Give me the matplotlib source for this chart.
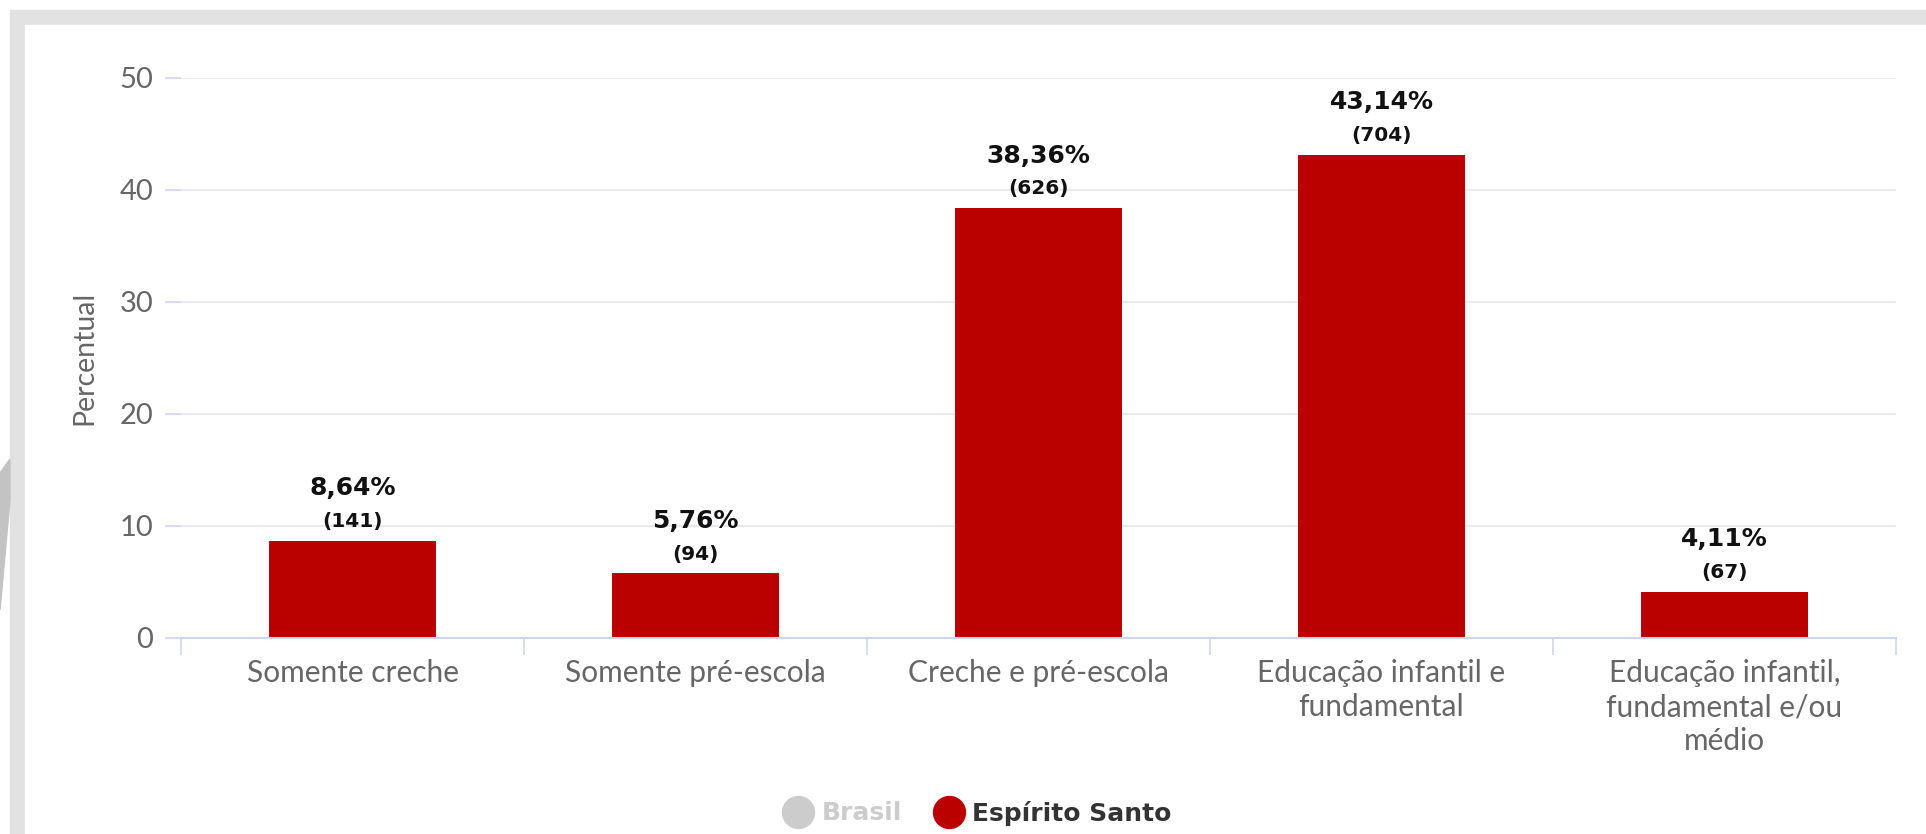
import matplotlib.pyplot as plt
from matplotlib.patches import Rectangle, Polygon
from matplotlib.lines import Line2D

plt.rcParams['font.family'] = ['Lato', 'DejaVu Sans']

categories = ['Somente creche', 'Somente pré-escola', 'Creche e pré-escola',
              'Educação infantil e\nfundamental',
              'Educação infantil,\nfundamental e/ou\nmédio']
percents = [8.64, 5.76, 38.36, 43.14, 4.11]
counts = [141, 94, 626, 704, 67]
yticks = [0, 10, 20, 30, 40, 50]

W, H = 1926, 834
fig = plt.figure(figsize=(W / 100, H / 100), dpi=100)

# gray frame around the white card
fig.patches.append(Rectangle((10 / W, 0), 1 - 10 / W, 1 - 10 / H,
                             transform=fig.transFigure, color='#e2e2e2', zorder=-3))
fig.patches.append(Rectangle((25 / W, 0), 1 - 25 / W, 1 - 25 / H,
                             transform=fig.transFigure, color='white', zorder=-2))
shape = [(0, 473), (10, 459), (10, 500), (0, 610)]
fig.patches.append(Polygon([(x / W, 1 - y / H) for x, y in shape], closed=True,
                           transform=fig.transFigure, color='#c3c3c3', zorder=-1))

ax = fig.add_axes([181 / W, 1 - 638 / H, 1715 / W, 560 / H])
ax.set_facecolor('none')

x = list(range(len(categories)))
bars = ax.bar(x, percents, width=0.484, color='#bb0000', zorder=2)

bold = ['DejaVu Sans']
for xi, p, c in zip(x, percents, counts):
    ax.annotate(f'({c})', (xi, p), xytext=(0, 10), textcoords='offset points',
                ha='center', va='baseline', fontsize=14.5, fontweight='bold',
                family=bold, color='#111111')
    ax.annotate(f'{p:.2f}%'.replace('.', ','), (xi, p), xytext=(0, 33),
                textcoords='offset points', ha='center', va='baseline',
                fontsize=18, fontweight='bold', family=bold, color='#111111')

ax.set_xlim(-0.5, len(categories) - 0.5)
ax.set_ylim(0, 50)
ax.set_yticks(yticks)
ax.set_yticklabels([str(t) for t in yticks])
ax.yaxis.grid(True, color='#e6e9ef', linewidth=1.5, zorder=0)
ax.set_axisbelow(True)

for s in ['top', 'right', 'left']:
    ax.spines[s].set_visible(False)
ax.spines['bottom'].set_color('#ccd6eb')
ax.spines['bottom'].set_linewidth(1.5)

ax.set_xticks(x)
ax.set_xticklabels(categories, fontsize=21.5, color='#666666', linespacing=1.27)
ax.set_xticks([i - 0.5 for i in range(len(categories) + 1)], minor=True)
ax.tick_params(axis='x', which='major', length=0, pad=15)
ax.tick_params(axis='x', which='minor', length=12, width=1.2, color='#ccd6eb')
ax.tick_params(axis='y', length=11.5, width=1.2, color='#ccd6eb', pad=8.5,
               labelsize=21, labelcolor='#666666')

ax.set_ylabel('Percentual', fontsize=20.5, color='#666666')
ax.yaxis.set_label_coords(-0.049, 0.5)

handles = [Line2D([], [], marker='o', linestyle='', markersize=23,
                  markerfacecolor='#cccccc', markeredgecolor='#cccccc'),
           Line2D([], [], marker='o', linestyle='', markersize=23,
                  markerfacecolor='#bb0000', markeredgecolor='#bb0000')]
leg = fig.legend(handles, ['Brasil', 'Espírito Santo'], loc='center',
                 bbox_to_anchor=(977 / W, 1 - 813 / H), ncol=2, frameon=False,
                 prop={'size': 18, 'weight': 'bold', 'family': bold},
                 handletextpad=0.3, columnspacing=1.2, handlelength=1.3)
leg.get_texts()[0].set_color('#cccccc')
leg.get_texts()[1].set_color('#333333')

fig.savefig('out.png', dpi=100)
